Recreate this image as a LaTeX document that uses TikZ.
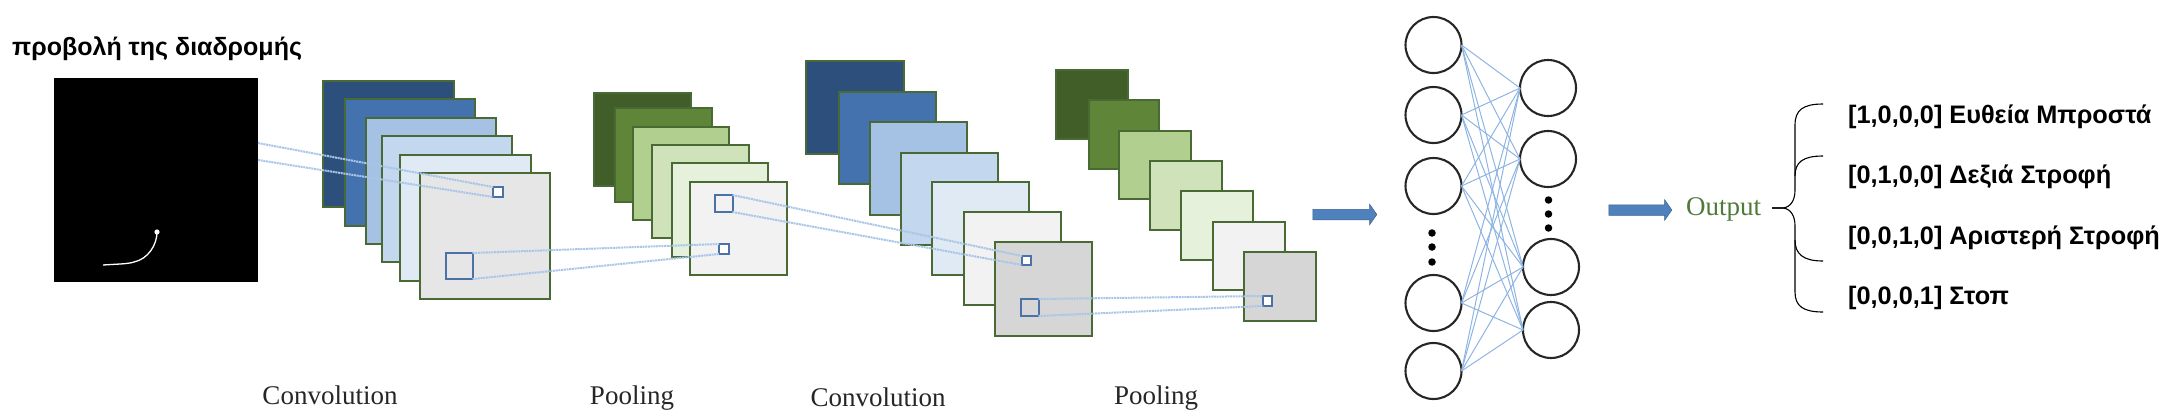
\documentclass[tikz,border=0pt]{standalone}
\usepackage{fontspec}
\setmainfont{Liberation Sans}
\newfontfamily\serifface{Liberation Serif}
\usetikzlibrary{shapes.geometric,shapes.arrows}
\definecolor{bordergreen}{HTML}{4A6A35}
\definecolor{linkblue}{HTML}{A9C6E8}
\definecolor{netblue}{HTML}{8DB4E2}
\definecolor{sqblue}{HTML}{4A72A8}
\definecolor{bluea}{HTML}{2C4F7C}
\definecolor{blueb}{HTML}{4472AE}
\definecolor{bluec}{HTML}{A5C2E5}
\definecolor{blued}{HTML}{C3D7EE}
\definecolor{bluee}{HTML}{E0EAF5}
\definecolor{greya}{HTML}{E6E6E6}
\definecolor{greyb}{HTML}{F2F2F2}
\definecolor{greyc}{HTML}{D6D6D6}
\definecolor{greena}{HTML}{425E28}
\definecolor{greenb}{HTML}{5F8539}
\definecolor{greenc}{HTML}{B1D08F}
\definecolor{greend}{HTML}{CFE2BA}
\definecolor{greene}{HTML}{E6F1DB}
\definecolor{outgreen}{HTML}{4F7A3A}
\definecolor{arrowblue}{HTML}{4F81BD}
\tikzset{
  cardbox/.style={draw=bordergreen,line width=2pt,rectangle,inner sep=0pt,outer sep=0pt,anchor=north west},
  squarebox/.style={draw=sqblue,line width=2pt,rectangle,inner sep=0pt,outer sep=0pt,anchor=north west},
  tinybox/.style={squarebox,fill=white,line width=2.4pt},
  linkline/.style={draw=linkblue,line width=2pt,dash pattern=on 2pt off 0.7pt},
  neuron/.style={draw=black!85,line width=2.1pt,ellipse,inner sep=0pt,outer sep=0pt,minimum width=56pt,minimum height=56pt},
  netline/.style={draw=netblue,line width=1pt},
  netdot/.style={fill=black,circle,inner sep=0pt,minimum size=7.5pt},
  fatarrow/.style={single arrow,fill=arrowblue,draw=arrowblue!75!black,line width=0.5pt,inner sep=0pt,outer sep=0pt,single arrow head extend=5pt,single arrow tip angle=110},
  serifcap/.style={font=\serifface\fontsize{27}{27}\selectfont,text=black!85,anchor=base,inner sep=0pt},
  classlabel/.style={font=\bfseries\fontsize{25.3}{26}\selectfont,anchor=base west,inner sep=0pt}
}
\newcommand{\card}[6]{\node[cardbox,fill=#6,minimum width={(#4-#2)*1pt},minimum height={(#5-#3)*1pt}] (#1) at (#2,#3) {};}
\newcommand{\sq}[6]{\node[#6,minimum width={(#4-#2)*1pt},minimum height={(#5-#3)*1pt}] (#1) at (#2,#3) {};}
\begin{document}
\begin{tikzpicture}[x=1pt,y=-1pt]
\useasboundingbox (0,0) rectangle (2168,416);
% input
\node[fill=black,draw=none,rectangle,inner sep=0pt,outer sep=0pt,anchor=north west,minimum width=204.5pt,minimum height=204pt] (input) at (53.5,78) {};
\draw[white,line width=1.3pt] (103,265) .. controls (118,264) and (128,264) .. (134,262) .. controls (148,259) and (157,245) .. (157,232);
\fill[white] (157,232) circle (2.6);
\node[font=\bfseries\fontsize{25}{26}\selectfont,anchor=base west,inner sep=0pt] (title) at (12,55) {προβολή της διαδρομής};
% stack 1
\card{aa}{323}{81}{454}{207}{bluea}
\card{ab}{345}{99}{475}{226}{blueb}
\card{ac}{366}{118}{496}{244}{bluec}
\card{ad}{382}{136}{512}{262}{blued}
\card{ae}{400}{155}{531}{281}{bluee}
\card{af}{420}{173}{550}{299}{greya}
\sq{asmall}{493}{187}{503}{197}{tinybox}
\sq{abig}{446}{253}{472.5}{279}{squarebox}
% pool 1
\card{ba}{594}{93}{691}{186}{greena}
\card{bb}{615}{108}{711.5}{202}{greenb}
\card{bc}{633}{127}{729}{220}{greenc}
\card{bd}{652}{145}{749}{238}{greend}
\card{be}{672}{163}{768}{257}{greene}
\card{bf}{690}{182}{787}{275}{greyb}
\sq{bbig}{714.5}{195}{732.5}{212}{squarebox}
\sq{bsmall}{719}{244}{729}{254}{tinybox}
% conv 2
\card{ca}{806}{61}{904}{154}{bluea}
\card{cb}{838.5}{92}{935.5}{184}{blueb}
\card{cc}{870}{122}{967}{215}{bluec}
\card{cd}{901}{153}{998}{245}{blued}
\card{ce}{932}{182}{1029}{275}{bluee}
\card{cf}{963.5}{212}{1060.5}{305}{greyb}
\card{cg}{995}{242}{1092}{336}{greyc}
\sq{csmall}{1022}{256}{1031}{265}{tinybox}
\sq{cbig}{1021}{299}{1038.5}{316}{squarebox}
% pool 2
\card{da}{1056}{70}{1128}{139}{greena}
\card{db}{1088.5}{100}{1159}{169}{greenb}
\card{dc}{1119}{131}{1190.5}{199}{greenc}
\card{dd}{1150}{161}{1222}{230}{greend}
\card{de}{1181}{191}{1253}{260}{greene}
\card{df}{1212.5}{222}{1284.5}{290}{greyb}
\card{dg}{1243.5}{252}{1315.5}{321}{greyc}
\sq{dsmall}{1263}{296}{1272}{306}{tinybox}
% links
\coordinate (ia) at (258,143);
\coordinate (ib) at (258,160);
\draw[linkline] (ia) -- (asmall.north west);
\draw[linkline] (ib) -- (asmall.south west);
\draw[linkline] (abig.north east) -- (bsmall.north west);
\draw[linkline] (abig.south east) -- (bsmall.south west);
\draw[linkline] (bbig.north east) -- (csmall.north west);
\draw[linkline] (bbig.south east) -- (csmall.south west);
\draw[linkline] (cbig.north east) -- (dsmall.north west);
\draw[linkline] (cbig.south east) -- (dsmall.south west);
% captions
\node[serifcap] (capa) at (330,404) {Convolution};
\node[serifcap] (capb) at (632,404) {Pooling};
\node[serifcap] (capc) at (878,406) {Convolution};
\node[serifcap] (capd) at (1156,404) {Pooling};
% network
\foreach \n/\y in {la/45,lb/115,lc/186,ld/303,le/371} \node[neuron] (\n) at (1433.5,\y) {};
\node[neuron] (ra) at (1548,88) {};
\node[neuron] (rb) at (1548,159) {};
\node[neuron] (rc) at (1551,267) {};
\node[neuron] (rd) at (1551,330) {};
\foreach \a in {la,lb,lc,ld,le} \foreach \b in {ra,rb,rc,rd} \draw[netline] (\a.east) -- (\b.west);
\foreach \n/\y in {pa/233,pb/247,pc/262} \node[netdot] (\n) at (1432,\y) {};
\foreach \n/\y in {qa/200,qb/214,qc/228} \node[netdot] (\n) at (1548.5,\y) {};
% arrows
\node[fatarrow,minimum height=64pt] (fa) at (1343,214.5) {\rule{0pt}{10pt}};
\node[fatarrow,minimum height=63pt] (fb) at (1638.5,210) {\rule{0pt}{10pt}};
\node[font=\serifface\fontsize{27}{27}\selectfont,text=outgreen,anchor=base west,inner sep=0pt] (out) at (1686,215) {Output};
% brace
\coordinate (btip) at (1772,208);
\coordinate (bt) at (1823,104);
\coordinate (bm) at (1823,156);
\coordinate (bn) at (1823,261);
\coordinate (bb) at (1823,312);
\draw[black,line width=1.1pt] (btip) -- (1783,208) .. controls (1791,207) and (1795,200) .. (1795,190) -- (1795,125) .. controls (1795,110) and (1803,104) .. (bt);
\draw[black,line width=1.1pt] (btip) -- (1783,208) .. controls (1791,209) and (1795,216) .. (1795,226) -- (1795,292) .. controls (1795,306) and (1803,312) .. (bb);
\draw[black,line width=1.1pt] (1795,176) .. controls (1795,162) and (1803,156) .. (bm);
\draw[black,line width=1.1pt] (1795,240) .. controls (1795,254) and (1803,261) .. (bn);
% classes
\node[classlabel] (ca1) at (1848,123) {[1,0,0,0] Ευθεία Μπροστά};
\node[classlabel] (ca2) at (1848,183) {[0,1,0,0] Δεξιά Στροφή};
\node[classlabel] (ca3) at (1848,244) {[0,0,1,0] Αριστερή Στροφή};
\node[classlabel] (ca4) at (1848,304) {[0,0,0,1] Στοπ};
\end{tikzpicture}
\end{document}
